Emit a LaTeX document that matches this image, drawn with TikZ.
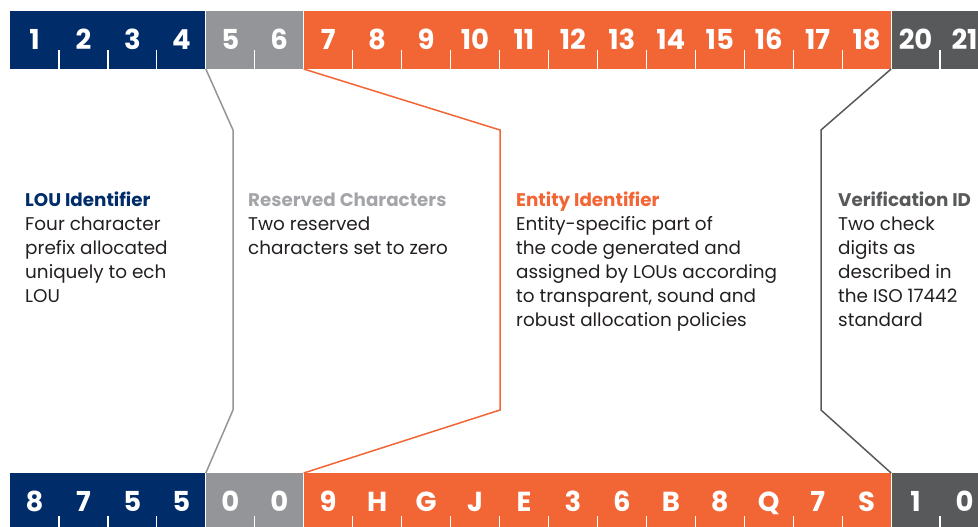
\documentclass[tikz,border=0pt]{standalone}
\usepackage{fontspec}
\setmainfont{Poppins}
\definecolor{loublue}{HTML}{002D6A}
\definecolor{resgray}{HTML}{939598}
\definecolor{entorange}{HTML}{F26535}
\definecolor{vergray}{HTML}{58595B}
\definecolor{bodytext}{HTML}{231F20}
\begin{document}
\begin{tikzpicture}[x=1pt,y=-1pt,
  cell/.style={minimum width=48.95pt, minimum height=58pt, inner sep=0pt, outer sep=0pt,
    text=white, font=\bfseries\fontsize{27.5}{27.5}\selectfont, text height=19.2pt, text depth=0pt,
    anchor=north west},
  tickline/.style={white, line width=1.2pt},
  sepline/.style={white, line width=0.9pt},
  link/.style={line width=1.5pt, line join=miter},
  head/.style={anchor=base west, inner sep=0pt, font=\bfseries\fontsize{18.3}{20}\selectfont},
  body/.style={anchor=base west, inner sep=0pt, text=bodytext, font=\fontsize{18.4}{20}\selectfont}]
\useasboundingbox (0,0) rectangle (978,527);
\clip (0,0) rectangle (978,527);
% top row
\foreach \lab/\col [count=\i from 0] in {1/loublue,2/loublue,3/loublue,4/loublue,5/resgray,6/resgray,
  7/entorange,8/entorange,9/entorange,10/entorange,11/entorange,12/entorange,13/entorange,14/entorange,
  15/entorange,16/entorange,17/entorange,18/entorange,20/vergray,21/vergray}
  \node[cell, fill=\col] (t\i) at (10+\i*48.95, 11) {\lab};
% bottom row
\foreach \lab/\col [count=\i from 0] in {8/loublue,7/loublue,5/loublue,5/loublue,0/resgray,0/resgray,
  9/entorange,H/entorange,G/entorange,J/entorange,E/entorange,3/entorange,6/entorange,B/entorange,
  8/entorange,Q/entorange,7/entorange,S/entorange,1/vergray,0/vergray}
  \node[cell, fill=\col] (b\i) at (10+\i*48.95, 473) {\lab};
% ticks
\foreach \k in {1,2,3,5,7,8,9,10,11,12,13,14,15,16,17,19}{
  \draw[tickline] ([yshift=19pt]t\k.south west) -- (t\k.south west);
  \draw[tickline] ([yshift=15pt]b\k.south west) -- (b\k.south west);
}
\foreach \k in {4,6,18}{
  \draw[sepline] (t\k.north west) -- (t\k.south west);
  \draw[sepline] (b\k.north west) -- (b\k.south west);
}
% connectors
\coordinate (g1) at (233,130); \coordinate (g2) at (233,410);
\coordinate (o1) at (500,130); \coordinate (o2) at (500,410);
\coordinate (v1) at (821,130); \coordinate (v2) at (821,410);
\draw[link, resgray] (t4.south west) -- (g1) -- (g2) -- (b4.north west);
\draw[link, entorange] (t6.south west) -- (o1) -- (o2) -- (b6.north west);
\draw[link, vergray] (t18.south west) -- (v1) -- (v2) -- (b18.north west);
% texts
\node[head, text=loublue] (lou-h) at (25,206) {LOU Identifier};
\foreach \t [count=\n] in {Four character, prefix allocated, uniquely to ech, LOU}
  \node[body] (lou-\n) at (25,206+24*\n) {\t};
\node[head, text=resgray!85!white] (res-h) at (248,206) {Reserved Characters};
\foreach \t [count=\n] in {Two reserved, characters set to zero}
  \node[body] (res-\n) at (248,206+24*\n) {\t};
\node[head, text=entorange] (ent-h) at (516,206) {Entity Identifier};
\foreach \t [count=\n] in {Entity-specific part of, the code generated and, assigned by LOUs according, {to transparent, sound and}, robust allocation policies}
  \node[body] (ent-\n) at (516,206+24*\n) {\t};
\node[head, text=vergray] (ver-h) at (838,206) {Verification ID};
\foreach \t [count=\n] in {Two check, digits as, described in, the ISO 17442, standard}
  \node[body] (ver-\n) at (838,206+24*\n) {\t};
\end{tikzpicture}
\end{document}
